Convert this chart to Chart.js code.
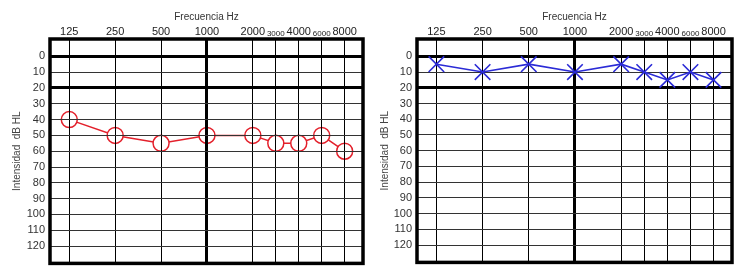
<!DOCTYPE html>
<html>
<head>
<meta charset="utf-8">
<script src="https://cdn.jsdelivr.net/npm/chart.js@4/dist/chart.umd.min.js"></script>
<style>
  html, body { margin:0; padding:0; background:#fff; }
  #wrap { position:relative; width:750px; height:275px; }
  canvas { position:absolute; top:0; }
</style>
</head>
<body>
<div id="wrap">
  <canvas id="left" width="375" height="275" style="left:0"></canvas>
  <canvas id="right" width="375" height="275" style="left:375px"></canvas>
</div>
<script>
// frequencies and their position on the chart (in octaves from 125 Hz)
const freqLabels = ['125','250','500','1000','2000','3000','4000','6000','8000']
const freqPos    = [0, 1, 2, 3, 4, 4.5, 5, 5.5, 6]
const dbTicks    = [0,10,20,30,40,50,60,70,80,90,100,110,120]

// thresholds (dB HL)
const leftEar  = [40, 50, 55, 50, 50, 55, 55, 50, 60]
const rightEar = [5, 10, 5, 10, 5, 10, 15, 10, 15]

const FONT = "'Liberation Sans', Arial, sans-serif"
const GRID = '#333'

const frame = {
  id:'frame',
  afterDraw(chart) {
    const a = chart.chartArea, c = chart.ctx
    c.save()
    c.strokeStyle = '#000'
    c.lineWidth = 3.5
    c.strokeRect(a.left, a.top, a.right - a.left, a.bottom - a.top)
    c.restore()
  }
}

function opts(yAxisW, titlePad, padRight, gridOnTop) {
  return {
    responsive:false, animation:false,
    layout:{ padding:{ top:0, right:padRight, bottom:10, left:0 } },
    plugins:{ legend:{display:false}, tooltip:{enabled:false} },
    scales:{
      x:{
        type:'linear', position:'top', min:-0.42, max:6.4,
        afterBuildTicks: s => { s.ticks = freqPos.map(v => ({value:v})) },
        afterFit: s => { s.height = 39 },
        grid:{
          color:'#000', drawTicks:false, z: gridOnTop ? 1 : 0,
          lineWidth: c => c.tick && c.tick.value === 3 ? 3 : 1
        },
        border:{display:false},
        ticks:{
          padding:0, maxRotation:0, autoSkip:false, color:'#222',
          callback: (v, i) => freqLabels[i],
          font: c => ({ family:FONT, size: (c.index === 5 || c.index === 7) ? 8 : 11 })
        },
        title:{ display:true, text:'Frecuencia Hz', color:'#333', font:{family:FONT, size:10}, padding:{top:11, bottom:0} }
      },
      y:{
        type:'linear', reverse:true, min:-11, max:131,
        afterBuildTicks: s => { s.ticks = dbTicks.map(v => ({value:v})) },
        afterFit: s => { s.width = yAxisW },
        grid:{
          color: c => (c.tick && (c.tick.value === 0 || c.tick.value === 20)) ? '#000' : GRID,
          drawTicks:false, z: gridOnTop ? 1 : 0,
          lineWidth: c => c.tick && (c.tick.value === 0 || c.tick.value === 20) ? 3 : 1
        },
        border:{display:false},
        ticks:{ padding:5, autoSkip:false, color:'#333', font:{family:FONT, size:11} },
        title:{ display:true, text:'Intensidad  dB HL', color:'#444', font:{family:FONT, size:10}, padding:{top:titlePad, bottom:0} }
      }
    }
  }
}

new Chart(document.getElementById('left'), {
  type:'line',
  data:{ datasets:[{
    data: freqPos.map((x, i) => ({x, y:leftEar[i]})),
    borderColor:'#e3202b', borderWidth:1.5,
    pointStyle:'circle', pointRadius:8, pointBorderWidth:1.5,
    pointBorderColor:'#e3202b', pointBackgroundColor:'#fff', tension:0
  }]},
  options: opts(50, 11, 12, true),
  plugins:[frame]
})

new Chart(document.getElementById('right'), {
  type:'line',
  data:{ datasets:[{
    data: freqPos.map((x, i) => ({x, y:rightEar[i]})),
    borderColor:'#2b2bd6', borderWidth:1.6,
    pointStyle:'crossRot', pointRadius:11, pointBorderWidth:1.6,
    pointBorderColor:'#2b2bd6', tension:0
  }]},
  options: opts(42, 4, 18, false),
  plugins:[frame]
})
</script>
</body>
</html>
